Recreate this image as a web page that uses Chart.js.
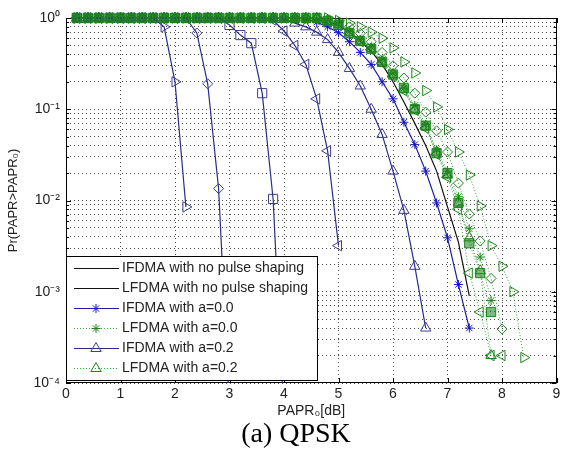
<!DOCTYPE html>
<html>
<head>
<meta charset="utf-8">
<script src="https://cdn.jsdelivr.net/npm/chart.js@4.4.1/dist/chart.umd.min.js"></script>
<style>
  html, body { margin: 0; padding: 0; background: #fff; }
  #wrap { position: relative; width: 564px; height: 455px; }
  #caption { position: absolute; left: 0; width: 592px; top: 417px; text-align: center;
             font: 28px "Liberation Serif", "Times New Roman", serif; color: #000; line-height: 32px; }
</style>
</head>
<body>
<div id="wrap">
  <canvas id="paprChart" width="564" height="455"></canvas>
  <div id="caption">(a) QPSK</div>
</div>
<script>
// PAPR0 grid in dB (x values shared by all curves)
const papr = [0.2, 0.4, 0.6, 0.8, 1.0, 1.2, 1.4, 1.6, 1.8, 2.0, 2.2, 2.4, 2.6, 2.8, 3.0, 3.2, 3.4, 3.6, 3.8, 4.0,
              4.2, 4.4, 4.6, 4.8, 5.0, 5.2, 5.4, 5.6, 5.8, 6.0, 6.2, 6.4, 6.6, 6.8, 7.0, 7.2, 7.4, 7.6, 7.8, 8.0,
              8.2, 8.4];

// Pr(PAPR > PAPR0)
const ifdmaNoPulse = [];
const lfdmaNoPulse = [1, 1, 1, 1, 1, 1, 1, 1, 1, 1, 1, 1, 1, 1, 1, 1, 1, 1, 1, 1, 1, 1,
                      0.97, 0.92, 0.83, 0.7, 0.56, 0.43, 0.31, 0.2, 0.12, 0.07, 0.04, 0.021, 0.0085, 0.0035, 0.0009];
const ifdmaA00 = [1, 1, 1, 1, 1, 1, 1, 1, 1, 1, 1, 1, 1, 1, 1, 1, 1, 1, 1, 1, 1,
                  0.97, 0.9, 0.8, 0.69, 0.55, 0.42, 0.31, 0.2, 0.13, 0.072, 0.041, 0.021, 0.0094, 0.0039, 0.0012, 0.0004];
const lfdmaA00 = [1, 1, 1, 1, 1, 1, 1, 1, 1, 1, 1, 1, 1, 1, 1, 1, 1, 1, 1, 1, 1, 1, 1,
                  0.93, 0.86, 0.71, 0.58, 0.48, 0.35, 0.25, 0.17, 0.11, 0.068, 0.036, 0.021, 0.011, 0.0049, 0.0024, 0.0008];
const ifdmaA02 = [1, 1, 1, 1, 1, 1, 1, 1, 1, 1, 1, 1, 1, 1, 1, 1, 1, 1, 1,
                  0.97, 0.88, 0.8, 0.7, 0.58, 0.42, 0.28, 0.18, 0.10, 0.053, 0.021, 0.0078, 0.0019, 0.0004];
const lfdmaA02 = [1, 1, 1, 1, 1, 1, 1, 1, 1, 1, 1, 1, 1, 1, 1, 1, 1, 1, 1, 1, 1, 1, 1,
                  0.92, 0.84, 0.69, 0.56, 0.46, 0.33, 0.24, 0.165, 0.10, 0.065, 0.034, 0.019, 0.0094, 0.0039, 0.0017, 0.0002];
const ifdmaA04 = [1, 1, 1, 1, 1, 1, 1, 1, 1, 1, 1, 1, 1, 1, 1, 1, 1, 1,
                  0.95, 0.72, 0.5, 0.31, 0.13, 0.035, 0.0032];
const lfdmaA04 = [1, 1, 1, 1, 1, 1, 1, 1, 1, 1, 1, 1, 1, 1, 1, 1, 1, 1, 1, 1, 1, 1, 1,
                  0.92, 0.83, 0.68, 0.55, 0.45, 0.32, 0.23, 0.16, 0.098, 0.062, 0.032, 0.018, 0.008, 0.0016, 0.0006, 0.0002, 0.0002];
const ifdmaA06 = [1, 1, 1, 1, 1, 1, 1, 1, 1, 1, 1, 1, 1, 1,
                  0.84, 0.65, 0.53, 0.15, 0.0104, 0.00004];
const lfdmaA06 = [1, 1, 1, 1, 1, 1, 1, 1, 1, 1, 1, 1, 1, 1, 1, 1, 1, 1, 1, 1, 1, 1, 1,
                  0.93, 0.84, 0.68, 0.56, 0.46, 0.33, 0.24, 0.17, 0.10, 0.066, 0.033, 0.020, 0.0094, 0.0034, 0.0016, 0.0006];
const ifdmaA08 = [1, 1, 1, 1, 1, 1, 1, 1, 1, 1, 1,
                  0.685, 0.19, 0.0135, 0.00005];
const lfdmaA08 = [1, 1, 1, 1, 1, 1, 1, 1, 1, 1, 1, 1, 1, 1, 1, 1, 1, 1, 1, 1, 1, 1, 1,
                  0.96, 0.9, 0.8, 0.68, 0.55, 0.42, 0.30, 0.22, 0.15, 0.093, 0.058, 0.034, 0.0155, 0.0071, 0.0036, 0.0014, 0.00039];
const ifdmaA10 = [1, 1, 1, 1, 1, 1, 1, 1,
                  0.8, 0.2, 0.0085];
const lfdmaA10 = [1, 1, 1, 1, 1, 1, 1, 1, 1, 1, 1, 1, 1, 1, 1, 1, 1, 1, 1, 1, 1, 1, 1, 1,
                  0.94, 0.88, 0.8, 0.7, 0.6, 0.47, 0.33, 0.25, 0.16, 0.106, 0.06, 0.034, 0.019, 0.0087, 0.0032, 0.0019, 0.001, 0.00019];

const legendLabels = ["IFDMA with no pulse shaping", "LFDMA with no pulse shaping", "IFDMA with a=0.0",
                      "LFDMA with a=0.0", "IFDMA with a=0.2", "LFDMA with a=0.2"];
const xTicks = [0, 1, 2, 3, 4, 5, 6, 7, 8, 9];
const yDecades = [1e-4, 1e-3, 1e-2, 1e-1, 1];
const yTickLabels = ["10\u207B\u2074", "10\u207B\u00B3", "10\u207B\u00B2", "10\u207B\u00B9", "10\u2070"];

const yGridValues = [];
yDecades.slice(0, -1).forEach(d => { for (let k = 1; k < 10; k++) yGridValues.push(k * d); });
yGridValues.push(1);

const sans = "'Liberation Sans', Arial, sans-serif";
const blueLine = "#2b2b88", blueMark = "#3d3d92", starBlue = "#1616c4";
const greenLine = "#3f9f3f", greenMark = "#1d861d";

function curve(label, values, style) {
    return Object.assign({
        label: label,
        data: values.map((v, i) => ({ x: papr[i], y: v })),
        borderWidth: 1.2,
        pointBorderWidth: 1,
        pointBackgroundColor: "rgba(0,0,0,0)",
        pointRadius: 6,
        tension: 0,
        fill: false,
        clip: { left: 8, top: 8, right: 8, bottom: 0 }
    }, style);
}

const solidBlue = { borderColor: blueLine, pointBorderColor: blueMark };
const dottedGreen = { borderColor: greenLine, borderDash: [1, 2], borderWidth: 1, pointBorderColor: greenMark };

const datasets = [
    curve(legendLabels[0], ifdmaNoPulse, { borderColor: "#111", pointRadius: 0 }),
    curve(legendLabels[1], lfdmaNoPulse, { borderColor: "#111", pointRadius: 0 }),
    curve(legendLabels[2], ifdmaA00, { borderColor: "#1d1da6", pointBorderColor: starBlue, pointStyle: "star", pointRadius: 4.5 }),
    curve(legendLabels[3], lfdmaA00, Object.assign({}, dottedGreen, { pointStyle: "star", pointRadius: 4.5 })),
    curve(legendLabels[4], ifdmaA02, Object.assign({}, solidBlue, { pointStyle: "triangle" })),
    curve(legendLabels[5], lfdmaA02, Object.assign({}, dottedGreen, { pointStyle: "triangle" })),
    curve("IFDMA with a=0.4", ifdmaA04, Object.assign({}, solidBlue, { pointStyle: "triangle", pointRotation: -90 })),
    curve("LFDMA with a=0.4", lfdmaA04, Object.assign({}, dottedGreen, { pointStyle: "triangle", pointRotation: -90 })),
    curve("IFDMA with a=0.6", ifdmaA06, Object.assign({}, solidBlue, { pointStyle: "rect", pointRadius: 6.5 })),
    curve("IFDMA with a=0.8", ifdmaA08, Object.assign({}, solidBlue, { pointStyle: "rectRot", pointRadius: 5 })),
    curve("LFDMA with a=0.8", lfdmaA08, Object.assign({}, dottedGreen, { pointStyle: "rectRot", pointRadius: 5 })),
    curve("IFDMA with a=1.0", ifdmaA10, Object.assign({}, solidBlue, { pointStyle: "triangle", pointRotation: 90 })),
    curve("LFDMA with a=1.0", lfdmaA10, Object.assign({}, dottedGreen, { pointStyle: "triangle", pointRotation: 90 })),
    curve("LFDMA with a=0.6", lfdmaA06, Object.assign({}, dottedGreen, {
        pointStyle: "rect", pointRadius: 6.5, pointBackgroundColor: "rgba(25,125,25,0.55)" }))
];
// later curves are drawn on top, like MATLAB's hold on
datasets.forEach((ds, i) => { ds.order = datasets.length - i; });

// axes box with inward ticks
const framePlugin = {
    id: "frame",
    beforeDatasetsDraw(chart) {
        const { ctx, chartArea: a, scales } = chart;
        ctx.save();
        ctx.strokeStyle = "#000";
        ctx.lineWidth = 1;
        ctx.setLineDash([]);
        ctx.strokeRect(Math.round(a.left) + 0.5, Math.round(a.top) + 0.5, Math.round(a.width) - 1, Math.round(a.height) - 1);
        ctx.beginPath();
        scales.x.ticks.forEach(t => {
            const px = Math.round(scales.x.getPixelForValue(t.value)) + 0.5;
            ctx.moveTo(px, a.bottom); ctx.lineTo(px, a.bottom - 5);
            ctx.moveTo(px, a.top); ctx.lineTo(px, a.top + 5);
        });
        scales.y.ticks.forEach(t => {
            const py = Math.round(scales.y.getPixelForValue(t.value)) + 0.5;
            const len = yDecades.includes(t.value) ? 5 : 3;
            ctx.moveTo(a.left, py); ctx.lineTo(a.left + len, py);
            ctx.moveTo(a.right, py); ctx.lineTo(a.right - len, py);
        });
        ctx.stroke();
        ctx.restore();
    }
};

// MATLAB style legend box in the lower left corner of the axes
const legendBoxPlugin = {
    id: "legendBox",
    afterDatasetsDraw(chart) {
        const { ctx, chartArea: a } = chart;
        const boxW = 251, boxH = 124, rowH = 20;
        const x0 = Math.round(a.left), y0 = Math.round(a.bottom) - 3 - boxH;
        ctx.save();
        ctx.fillStyle = "#fff";
        ctx.fillRect(x0, y0, boxW, boxH);
        ctx.strokeStyle = "#000";
        ctx.lineWidth = 1;
        ctx.strokeRect(x0 + 0.5, y0 + 0.5, boxW, boxH);
        legendLabels.forEach((label, i) => {
            const ds = chart.data.datasets[i];
            const y = y0 + 12.5 + i * rowH;
            ctx.strokeStyle = ds.borderColor;
            ctx.lineWidth = ds.borderWidth;
            ctx.setLineDash(ds.borderDash || []);
            ctx.beginPath();
            ctx.moveTo(x0 + 8, y);
            ctx.lineTo(x0 + 53, y);
            ctx.stroke();
            ctx.setLineDash([]);
            if (ds.pointRadius > 0) {
                ctx.strokeStyle = ds.pointBorderColor;
                ctx.fillStyle = "rgba(0,0,0,0)";
                ctx.lineWidth = 1;
                Chart.helpers.drawPoint(ctx, {
                    pointStyle: ds.pointStyle, rotation: ds.pointRotation || 0,
                    radius: ds.pointRadius, borderWidth: 1
                }, x0 + 30, y);
            }
            ctx.fillStyle = "#222";
            ctx.font = "14px " + sans;
            ctx.textBaseline = "middle";
            ctx.fillText(label, x0 + 56, y);
        });
        ctx.restore();
    }
};

const ctx = document.getElementById("paprChart");

new Chart(ctx, {
    type: "line",
    data: { datasets: datasets },
    options: {
        responsive: false,
        animation: false,
        devicePixelRatio: 1,
        events: [],
        layout: { padding: { top: 18, right: 3, left: 0, bottom: 32 } },
        plugins: { legend: { display: false }, tooltip: { enabled: false } },
        scales: {
            x: {
                type: "linear",
                min: 0,
                max: 9,
                afterBuildTicks: s => { s.ticks = xTicks.map(v => ({ value: v })); },
                afterFit: s => { s.height = 40; },
                ticks: { color: "#222", font: { family: sans, size: 14 }, padding: 3 },
                grid: { color: "rgba(0,0,0,0.7)", drawTicks: false, lineWidth: 1 },
                border: { display: false, dash: [1, 3] },
                title: { display: true, text: "PAPR\u2080[dB]", color: "#222",
                         font: { family: sans, size: 14 }, padding: { top: 0, bottom: 3 } }
            },
            y: {
                type: "logarithmic",
                min: 1e-4,
                max: 1,
                afterBuildTicks: s => { s.ticks = yGridValues.map(v => ({ value: v })); },
                afterFit: s => { s.width = 66; },
                ticks: {
                    autoSkip: false,
                    color: "#222",
                    font: { family: sans, size: 14 },
                    padding: 6,
                    callback: v => {
                        const i = yDecades.indexOf(v);
                        return i >= 0 ? yTickLabels[i] : "";
                    }
                },
                grid: { color: "rgba(0,0,0,0.7)", drawTicks: false, lineWidth: 1 },
                border: { display: false, dash: [1, 3] },
                title: { display: true, text: "Pr(PAPR>PAPR\u2080)", color: "#222",
                         font: { family: sans, size: 13 }, padding: { top: 6, bottom: 0 } }
            }
        }
    },
    plugins: [framePlugin, legendBoxPlugin]
});
</script>
</body>
</html>
